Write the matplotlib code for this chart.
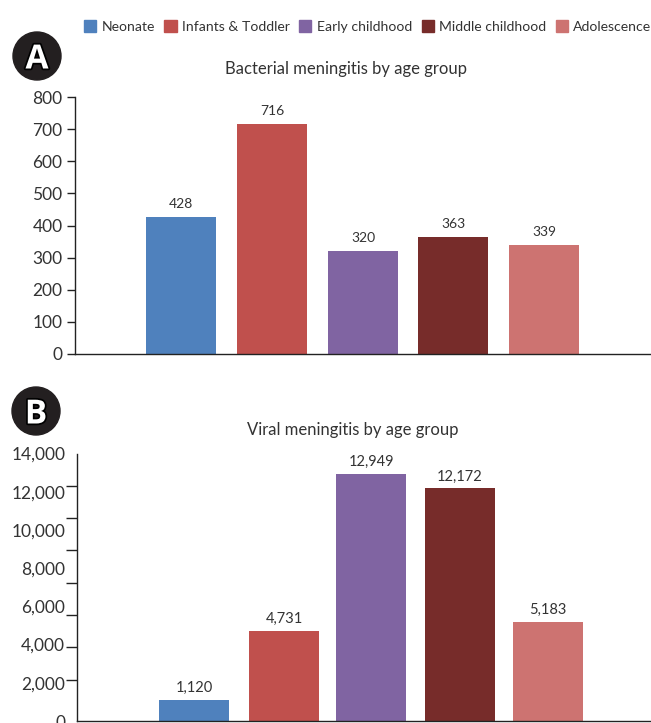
import matplotlib
matplotlib.use("Agg")
import matplotlib.pyplot as plt
from matplotlib.patches import Circle
from matplotlib.patches import Rectangle
import matplotlib.patheffects as pe

groups = ["Neonate", "Infants & Toddler", "Early childhood", "Middle childhood", "Adolescence"]
bacterial = [428, 716, 320, 363, 339]
viral = [1120, 4731, 12949, 12172, 5183]
bacterial_ticks = [0, 100, 200, 300, 400, 500, 600, 700, 800]
viral_ticks = [0, 2000, 4000, 6000, 8000, 10000, 12000, 14000]

colors = ["#4F81BD", "#C0504D", "#8064A2", "#772C2A", "#CD7371"]
W, H = 651, 723
DARK = "#333333"
FONT = "Lato"
plt.rcParams["font.family"] = [FONT, "DejaVu Sans"]

fig = plt.figure(figsize=(W / 100, H / 100), dpi=100)

def make_axes(left, top, bottom):
    return fig.add_axes([left / W, 1 - bottom / H, (W - left) / W, (bottom - top) / H])

def style(ax, xmax):
    ax.set_xlim(0, xmax)
    for s in ("top", "right"):
        ax.spines[s].set_visible(False)
    for s in ("left", "bottom"):
        ax.spines[s].set_linewidth(1.0)
        ax.spines[s].set_color("#222222")
    ax.set_xticks([])
    ax.patch.set_alpha(0)

# Panel A
axA = make_axes(75, 97, 354)
centersA = [106, 197, 288, 378, 469]
barsA = axA.bar(centersA, bacterial, width=70, color=colors, label="_")
axA.set_ylim(0, 800)
style(axA, W - 75)
axA.set_yticks(bacterial_ticks)
axA.tick_params(axis="y", length=6, width=1, color="#222222", labelsize=12.5, labelcolor=DARK, pad=3)
for b, v in zip(barsA, bacterial):
    axA.annotate(f"{v:,}", (b.get_x() + b.get_width() / 2, v), xytext=(0, 5),
                 textcoords="offset points", ha="center", va="bottom", fontsize=10, color=DARK)
fig.text(346 / W, 1 - 69 / H, "Bacterial meningitis by age group", ha="center", va="center",
         fontsize=12, color=DARK)

# Panel B
axB = make_axes(77, 453.5, 721)
centersB = [117, 207, 294, 383, 471]
barsB = axB.bar(centersB, viral, width=70, color=colors)
axB.set_ylim(0, 14000)
style(axB, W - 77)
axB.set_yticks(viral_ticks)
axB.set_yticklabels([f"{v:,}" for v in viral_ticks])
axB.tick_params(axis="y", which="major", length=0, labelsize=12.5, labelcolor=DARK, pad=8.5)
# The printed tick marks are not spaced like the labels
axB.set_yticks([0] + [14000 - 1692 * k for k in range(8)], minor=True)
axB.tick_params(axis="y", which="minor", length=8, width=1, color="#222222")
for b, v in zip(barsB, viral):
    axB.annotate(f"{v:,}", (b.get_x() + b.get_width() / 2, v), xytext=(0, 3.5),
                 textcoords="offset points", ha="center", va="bottom", fontsize=10.5, color=DARK)
fig.text(353 / W, 1 - 430 / H, "Viral meningitis by age group", ha="center", va="center",
         fontsize=12, color=DARK)

# Legend
handles = [Rectangle((0, 0), 1, 1, color=c) for c in colors]
fig.legend(handles, groups, ncol=5, loc="center left", bbox_to_anchor=(84 / W, 1 - 26.5 / H),
           frameon=False, fontsize=10.1, labelcolor=DARK, handlelength=0.86, handleheight=0.86,
           handletextpad=0.37, columnspacing=0.7, borderpad=0, borderaxespad=0)

# Panel badges
overlay = fig.add_axes([0, 0, 1, 1], facecolor="none")
overlay.set_xlim(0, W)
overlay.set_ylim(H, 0)
overlay.axis("off")
for letter, cx, cy in (("A", 37, 56), ("B", 36, 411)):
    overlay.add_patch(Circle((cx, cy), 24, color="#231F20"))
    overlay.text(cx, cy, letter, ha="center", va="center_baseline", fontsize=24, fontweight="bold",
                 color="white", family="Open Sans",
                 path_effects=[pe.withStroke(linewidth=2.5, foreground="black")])

fig.savefig("out.png", dpi=100)
